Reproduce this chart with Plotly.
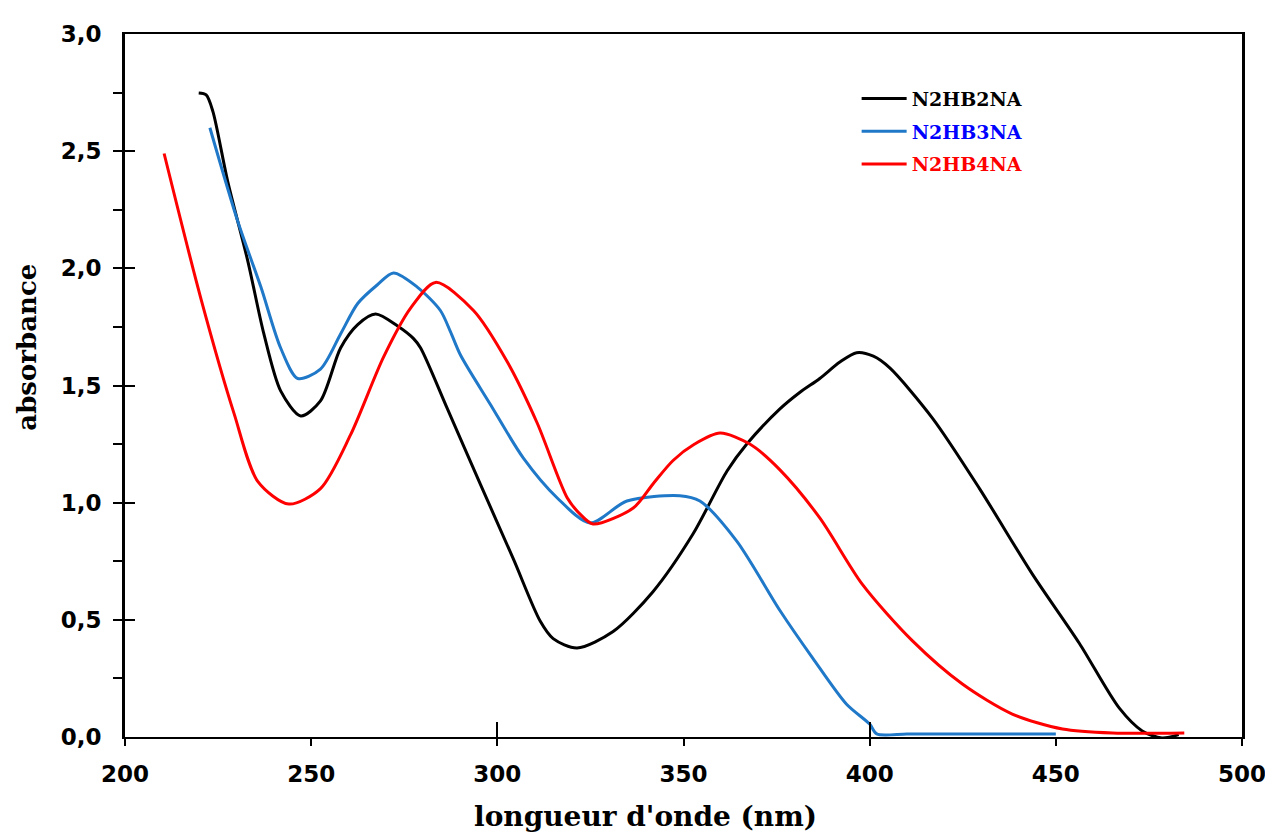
import plotly.graph_objects as go

# N2HB2NA (black)
x_b2 = [219.8, 221.8, 223.6, 227.6, 233.0, 237.3, 241.8, 247.2, 252.5, 257.9, 262.5, 267.3, 273.2, 277.5,
        279.4, 286.6, 295.4, 304.3, 311.5, 315.0, 321.4, 331.1, 341.8, 352.5, 361.7, 367.0, 375.9,
        381.2, 386.6, 392.0, 396.5, 401.0, 405.4, 416.9, 429.5, 443.7, 456.3, 467.0, 473.2, 478.5, 483.0]
y_b2 = [2.748, 2.74, 2.67, 2.37, 2.03, 1.72, 1.477, 1.37, 1.434, 1.66, 1.76, 1.805, 1.754, 1.70,
        1.66, 1.40, 1.08, 0.76, 0.495, 0.42, 0.38, 0.45, 0.62, 0.865, 1.135, 1.25, 1.40,
        1.47, 1.53, 1.60, 1.64, 1.625, 1.575, 1.36, 1.06, 0.695, 0.40, 0.124, 0.026, -0.004, 0.01]

# N2HB3NA (blue)
x_b3 = [222.8, 230.3, 236.5, 241.8, 246.4, 252.5, 257.9, 262.5, 267.8, 272.1, 278.5, 284.7, 287.4,
        290.1, 298.1, 307.0, 316.1, 324.9, 334.8, 349.0, 354.4, 364.3, 375.9, 384.7, 393.8, 400.0,
        401.9, 410.0, 420.0, 430.0, 440.0, 450.0]
y_b3 = [2.60, 2.20, 1.92, 1.66, 1.53, 1.57, 1.72, 1.85, 1.93, 1.98, 1.92, 1.82, 1.73,
        1.63, 1.42, 1.19, 1.02, 0.913, 1.007, 1.03, 1.007, 0.836, 0.54, 0.337, 0.14, 0.055,
        0.013, 0.013, 0.013, 0.013, 0.013, 0.013]

# N2HB4NA (red)
x_b4 = [210.5, 220.4, 229.3, 235.7, 244.0, 252.5, 260.6, 269.4, 276.7, 283.4, 293.6, 302.7, 310.7,
        318.8, 322.3, 325.7, 336.5, 341.8, 347.2, 353.0, 359.8, 367.8, 375.9, 386.6, 398.1, 411.5, 424.9,
        438.3, 451.8, 465.2, 484.5]
y_b4 = [2.49, 1.87, 1.38, 1.09, 0.994, 1.06, 1.29, 1.62, 1.83, 1.94, 1.82, 1.60, 1.34,
        1.02, 0.95, 0.909, 0.977, 1.08, 1.18, 1.25, 1.297, 1.25, 1.14, 0.935, 0.65, 0.41, 0.226,
        0.098, 0.034, 0.017, 0.017]

series_names = ["N2HB2NA", "N2HB3NA", "N2HB4NA"]
line_colors = ["#000000", "#1f78c8", "#ff0000"]
legend_text_colors = ["#000000", "#0000ff", "#ff0000"]

fig = go.Figure()
for xs, ys, name, lc, tc in zip([x_b2, x_b3, x_b4], [y_b2, y_b3, y_b4],
                                series_names, line_colors, legend_text_colors):
    fig.add_trace(go.Scatter(
        x=xs, y=ys, mode="lines", legendgroup=name,
        line=dict(color=lc, width=3, shape="spline", smoothing=0.8),
        name=f"<span style='color:{tc}'><b>{name}</b></span>"))

# invisible trace to anchor the overlay x axis (long ticks every 100)
fig.add_trace(go.Scatter(x=x_b2, y=y_b2, xaxis="x2", mode="lines", opacity=0,
                         showlegend=False, hoverinfo="skip", line=dict(width=0)))

tick_font = dict(family="DejaVu Sans", size=23, color="#000000", weight="bold")

fig.update_layout(
    width=1270, height=824,
    paper_bgcolor="white", plot_bgcolor="white",
    separators=", ",
    margin=dict(l=117, r=30, t=26, b=95),
    showlegend=True,
    legend=dict(x=0.655, y=0.935, xanchor="left", yanchor="top",
                bgcolor="rgba(0,0,0,0)", traceorder="grouped",
                font=dict(family="DejaVu Serif", size=19, color="#000000"),
                itemwidth=45, tracegroupgap=5),
    xaxis=dict(range=[200, 500], dtick=50, tick0=200, showgrid=False, zeroline=False,
               showline=True, linecolor="black", linewidth=2, mirror=True,
               ticks="outside", ticklen=7, tickwidth=2, tickcolor="black",
               tickfont=tick_font, ticklabelstandoff=8),
    xaxis2=dict(range=[200, 500], dtick=100, tick0=200, overlaying="x", side="bottom",
                anchor="y", showgrid=False, zeroline=False, showline=False,
                ticks="inside", ticklen=15, tickwidth=2, tickcolor="black",
                showticklabels=False),
    yaxis=dict(range=[0, 3.0], dtick=0.5, tick0=0, tickformat=".1f", showgrid=False, zeroline=False,
               showline=True, linecolor="black", linewidth=3, mirror=True,
               ticks="inside", ticklen=10, tickwidth=2, tickcolor="black",
               minor=dict(dtick=0.25, ticks="outside", ticklen=9, tickwidth=2, tickcolor="black"),
               tickfont=tick_font, ticklabelstandoff=16),
    annotations=[
        dict(text="<b>longueur d'onde (nm)</b>", xref="paper", yref="paper",
             x=(645 - 124) / 1119, y=(736 - 815) / 703, xanchor="center", yanchor="middle",
             showarrow=False, font=dict(family="DejaVu Serif", size=28, color="black")),
        dict(text="<b>absorbance</b>", xref="paper", yref="paper", textangle=-90,
             x=-0.088, y=(736 - 346) / 703, xanchor="center", yanchor="middle",
             showarrow=False, font=dict(family="DejaVu Serif", size=26, color="black")),
    ],
)

fig.write_html("out.html")
